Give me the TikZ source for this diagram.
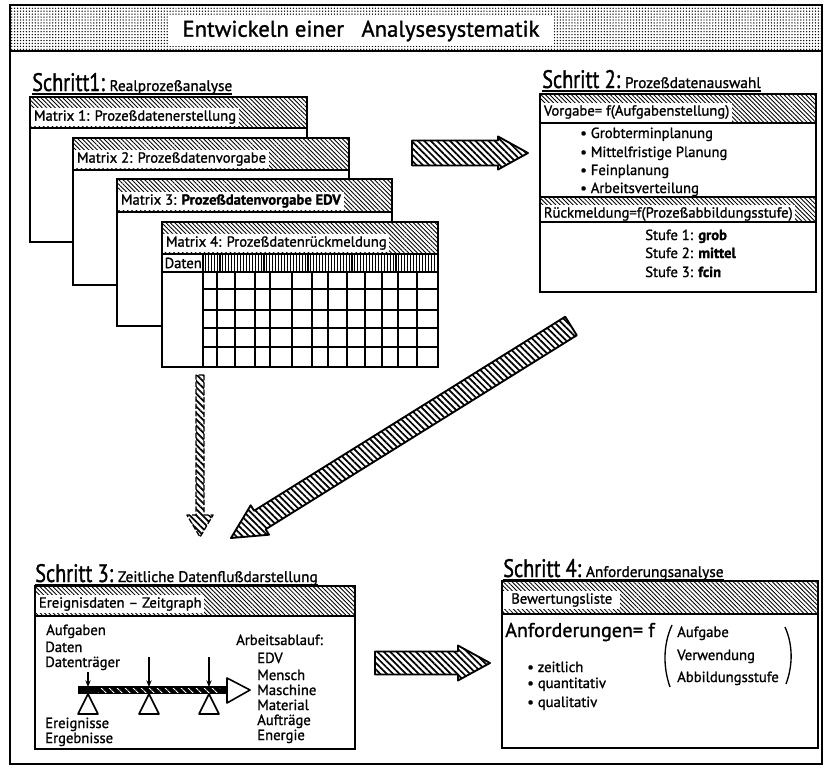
\documentclass[tikz,border=0pt]{standalone}
\usepackage{fontspec}
\setmainfont{PT Sans}[FakeBold=1.2]
\newfontfamily\stepfamily{PT Sans}[FakeStretch=0.8,FakeBold=1.2]
\usetikzlibrary{patterns.meta,calc,arrows.meta}

% font sizes
\newcommand{\fsText}{\fontsize{11}{13}\selectfont}
\newcommand{\fsStep}{\stepfamily\fontsize{19}{22}\selectfont}
\newcommand{\fsSub}{\rmfamily\fontsize{11.5}{13}\selectfont}

% hatched block arrow: #1 style, #2 tail, #3 tip, #4 half shaft, #5 half head, #6 head length
\newcommand{\blockarrow}[6]{%
  \coordinate (hb) at ($(#3)!#6!(#2)$);
  \draw[#1] ($(#2)!#4!90:(#3)$) -- ($(hb)!#4!90:(#3)$) -- ($(hb)!#5!90:(#3)$) -- (#3)
    -- ($(hb)!#5!-90:(#3)$) -- ($(hb)!#4!-90:(#3)$) -- ($(#2)!#4!-90:(#3)$) -- cycle;
}

% panel with hatched title band: #1 name, #2 x0, #3 y0, #4 x1, #5 y1, #6 band bottom, #7 title
\newcommand{\mxpanel}[7]{%
  \fill[white] (#2,#3) rectangle (#4,#5);
  \path[hatch] (#2,#3) rectangle (#4,#6);
  \node[hdr] (#1) at ({#2+1},{#6-11}) {#7};
  \draw[line width=1pt] (#2,#6) -- (#4,#6);
  \draw[line width=1.5pt] (#2,#3) rectangle (#4,#5);
}

\begin{document}
\begin{tikzpicture}[x=0.75pt,y=-0.75pt,
  hatch/.style={pattern={Lines[angle=-45,distance=2.3pt,line width=0.65pt]}},
  arrowhatch/.style={line width=1.4pt, line join=round,
    pattern={Lines[angle=-45,distance=3.4pt,line width=1.3pt]}},
  vhatch/.style={pattern={Lines[angle=90,distance=2.2pt,line width=0.8pt]}},
  dotfill/.style={pattern={Dots[distance=2.2pt,radius=0.55pt]}},
  hdr/.style={fill=white, inner xsep=2pt, inner ysep=2pt, anchor=west, font=\fsText},
  txt/.style={inner sep=0pt, anchor=base west, font=\fsText},
  steplabel/.style={inner sep=0pt, anchor=base west},
  gridline/.style={line width=0.9pt},
  outline/.style={line width=1.2pt, fill=white, line join=round}]

\useasboundingbox (0,0) rectangle (828,768);

% ---- title band and outer frame ----
\path[dotfill] (10,5) rectangle (822,51);
\node[fill=white, minimum width=290pt, minimum height=21pt,
      font=\fontsize{17}{20}\selectfont] (title) at (361,31)
      {Entwickeln einer\hspace{0.5em} Analysesystematik};
\draw[line width=2pt] (10,51) -- (822,51);
\draw[line width=1.8pt] (10,5) rectangle (822,764);

% ---- Schritt 1 ----
\node[steplabel] (s1) at (32,91) {{\fsStep Schritt1:} {\fsSub Realprozeßanalyse}};
\draw[line width=0.8pt] ($(s1.base west)+(0,3)$) -- ($(s1.base east)+(0,3)$);

\mxpanel{m1}{30}{97}{307}{242}{128}{Matrix 1: Prozeßdatenerstellung}
\mxpanel{m2}{73}{138}{349}{285}{170}{Matrix 2: Prozeßdatenvorgabe}
\mxpanel{m3}{117}{179}{392}{326}{212}{Matrix 3: \textbf{Prozeßdatenvorgabe EDV}}
\mxpanel{m4}{162}{222}{438}{367}{254}{Matrix 4: Prozeßdatenrückmeldung}

% data row and grid of matrix 4
\path[vhatch] (203,254) rectangle (438,272);
\node[fill=white, inner xsep=1pt, inner ysep=1.5pt, anchor=west, font=\fsText] (daten) at (163,263) {Daten};
\draw[line width=1pt] (162,272) -- (438,272);
\foreach \x in {217,235,255,270,292,312,328,347,365,382,398,417}
  \draw[gridline] (\x,272) -- (\x,367);
\foreach \y in {289,310,328,347}
  \draw[gridline] (203,\y) -- (438,\y);
\draw[line width=1.3pt] (203,254) -- (203,367);
\draw[line width=1.5pt] (162,222) rectangle (438,367);

% ---- Schritt 2 ----
\node[steplabel] (s2) at (542,88) {{\fsStep Schritt 2:} {\fsSub Prozeßdatenauswahl}};
\draw[line width=0.8pt] ($(s2.base west)+(0,3)$) -- ($(s2.base east)+(0,3)$);

\fill[white] (540,94) rectangle (816,292);
\path[hatch] (540,94) rectangle (816,123);
\node[hdr] (vorg) at (541,112) {Vorgabe= f(Aufgabenstellung)};
\draw[line width=1pt] (540,123) -- (816,123);
\node[txt] (g1) at (580,138) {\textbullet\ Grobterminplanung};
\node[txt] (g2) at (580,157) {\textbullet\ Mittelfristige Planung};
\node[txt] (g3) at (580,175) {\textbullet\ Feinplanung};
\node[txt] (g4) at (580,193) {\textbullet\ Arbeitsverteilung};
\path[hatch] (540,197) rectangle (816,222);
\node[hdr] (rueck) at (541,214) {Rückmeldung=f(Prozeßabbildungsstufe)};
\draw[line width=1.6pt] (540,197) -- (816,197);
\draw[line width=1pt] (540,222) -- (816,222);
\node[txt] (st1) at (645,240) {Stufe 1: \textbf{grob}};
\node[txt] (st2) at (645,258) {Stufe 2: \textbf{mittel}};
\node[txt] (st3) at (645,277) {Stufe 3: \textbf{fcin}};
\draw[line width=1.5pt] (540,94) rectangle (816,292);

% ---- Schritt 3 ----
\node[steplabel] (s3) at (35,582) {{\fsStep Schritt 3:} {\fsSub Zeitliche Datenflußdarstellung}};
\draw[line width=0.8pt] ($(s3.base west)+(0,3)$) -- ($(s3.base east)+(0,3)$);

\fill[white] (35,586) rectangle (355,749);
\path[hatch] (35,586) rectangle (355,616);
\node[hdr] (ereig) at (36,604) {Ereignisdaten – Zeitgraph};
\draw[line width=1pt] (35,616) -- (355,616);

\node[txt] (auf) at (46,635) {Aufgaben};
\node[txt] (dat) at (45,652) {Daten};
\node[txt] (dtr) at (45,667) {Datenträger};
\node[txt] (ern) at (45,728) {Ereignisse};
\node[txt] (erg) at (45,743) {Ergebnisse};
\node[txt] (abl) at (236,645) {Arbeitsablauf:};
\node[txt] (edv) at (257,663) {EDV};
\node[txt] (men) at (257,680) {Mensch};
\node[txt] (mas) at (257,695) {Maschine};
\node[txt] (mat) at (257,710) {Material};
\node[txt] (auft) at (257,725) {Aufträge};
\node[txt] (ene) at (257,740) {Energie};

% time axis
\fill[black] (78,686) rectangle (227,694);
\path[pattern={Lines[angle=-45,distance=4pt,line width=0.8pt]}, pattern color=white]
  (98,688) rectangle (220,692);
\draw[outline] (227,678) -- (250,690) -- (227,703) -- cycle;
\foreach \x/\ys in {88/672,149/657,209/657}{
  \draw[line width=1pt, -{Stealth[length=5pt,width=4pt]}] (\x,\ys) -- (\x,687);
  \draw[outline] (\x,694) -- (\x+10,714) -- (\x-10,714) -- cycle;
}
\draw[line width=1.5pt] (35,586) rectangle (355,749);

% ---- Schritt 4 ----
\node[steplabel] (s4) at (503,577) {{\fsStep Schritt 4:} {\fsSub Anforderungsanalyse}};
\draw[line width=0.8pt] ($(s4.base west)+(0,3)$) -- ($(s4.base east)+(0,3)$);

\fill[white] (502,581) rectangle (818,748);
\path[hatch] (502,581) rectangle (818,614);
\node[hdr, inner xsep=6pt] (bew) at (503,600) {Bewertungsliste};
\draw[line width=1pt] (502,614) -- (818,614);
\node[inner sep=0pt, anchor=base west, font=\fontsize{15}{18}\selectfont] (anf) at (505,637) {Anforderungen= f};
\draw[line width=1pt] (672,625) .. controls (663,645) and (663,667) .. (670,687);
\draw[line width=1pt] (785,627) .. controls (793,645) and (793,665) .. (786,684);
\node[txt] (pa1) at (677,637) {Aufgabe};
\node[txt] (pa2) at (677,660) {Verwendung};
\node[txt] (pa3) at (677,682) {Abbildungsstufe};
\node[txt] (q1) at (527,672) {\textbullet\ zeitlich};
\node[txt] (q2) at (527,688) {\textbullet\ quantitativ};
\node[txt] (q3) at (527,707) {\textbullet\ qualitativ};
\draw[line width=1.5pt] (502,581) rectangle (818,748);

% ---- hatched block arrows between the steps ----
\coordinate (a12s) at (412,153);
\coordinate (a12e) at (528,153);
\blockarrow{arrowhatch}{a12s}{a12e}{9.4pt}{12.4pt}{22.5pt}

\coordinate (a23s) at (571,326);
\coordinate (a23e) at (231,538);
\blockarrow{arrowhatch}{a23s}{a23e}{8.2pt}{13pt}{25.5pt}

\coordinate (a13s) at (200,375);
\coordinate (a13e) at (200,537);
\blockarrow{arrowhatch, line width=1pt, dash pattern=on 4pt off 1.5pt}{a13s}{a13e}{3pt}{9.8pt}{16.5pt}

\coordinate (a34s) at (375,663);
\coordinate (a34e) at (490,663);
\blockarrow{arrowhatch}{a34s}{a34e}{8.6pt}{13.1pt}{24pt}

\end{tikzpicture}
\end{document}
